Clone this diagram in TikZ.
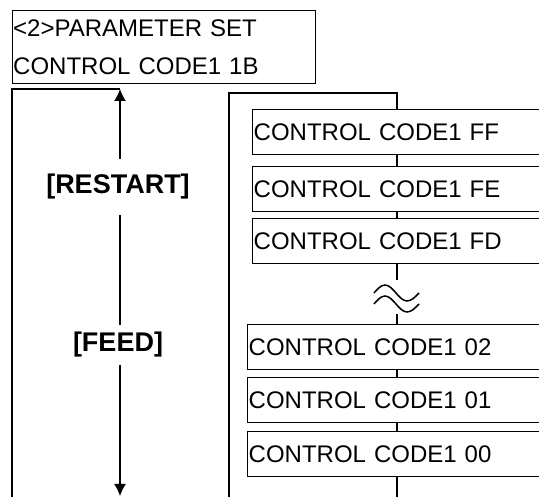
\documentclass[tikz,border=0pt]{standalone}
\usepackage{fontspec}
\setmainfont{Liberation Sans}
\usepackage{tikz}
\usetikzlibrary{arrows.meta,calc,positioning}

\begin{document}
\begin{tikzpicture}[x=1pt,y=-1pt,line width=1.4pt,>={Latex[length=12pt,width=12pt]},
    codebox/.style={draw,anchor=north west,minimum width=320,minimum height=45,text width=318,inner xsep=0.5pt,align=left,font=\fontsize{24}{28}\selectfont},
    keylabel/.style={inner sep=0pt,font=\bfseries\fontsize{27}{30}\selectfont}]
      \useasboundingbox (0,0) rectangle (539,497);
      \clip (0,0) rectangle (539,497);
      \node[draw,anchor=north west,minimum width=303,minimum height=73,text width=302,inner xsep=0.5pt,align=left,font=\fontsize{24}{38}\selectfont] (param) at (12,10) {<2>PARAMETER SET\\CONTROL CODE1 1B};
      \coordinate (lfoot) at (12,505);
      \coordinate (atop) at (120,89);
      \coordinate (abot) at (120,496);
      \node[keylabel,minimum height=55] (restart) at (118,187) {[RESTART]};
      \node[keylabel,minimum height=38] (feed) at (118,345) {[FEED]};
      \draw (lfoot) |- (atop);
      \draw[->] (restart.north -| atop) -- (atop);
      \draw (restart.south -| atop) -- (feed.north -| atop);
      \draw[->] (feed.south -| atop) -- (abot);
      \coordinate (rfoot) at (229,505);
      \coordinate (rtop) at (397,93);
      \node[codebox] (ff) at (252,109) {CONTROL CODE1 FF};
      \node[codebox] (fe) at (252,166) {CONTROL CODE1 FE};
      \node[codebox] (fd) at (252,218) {CONTROL CODE1 FD};
      \node[minimum width=40,minimum height=33,inner sep=0pt] (skip) at (397,297) {};
      \node[codebox] (c02) at (247,324) {CONTROL CODE1 02};
      \node[codebox] (c01) at (247,377) {CONTROL CODE1 01};
      \node[codebox] (c00) at (247,431) {CONTROL CODE1 00};
      \coordinate (cfoot) at (397,505);
      \draw (rfoot) |- (rtop) -- (rtop |- ff.north);
      \draw (rtop |- ff.south) -- (rtop |- fe.north);
      \draw (rtop |- fe.south) -- (rtop |- fd.north);
      \draw (rtop |- fd.south) -- (skip.north);
      \draw (skip.south) -- (rtop |- c02.north);
      \draw (rtop |- c02.south) -- (rtop |- c01.north);
      \draw (rtop |- c01.south) -- (rtop |- c00.north);
      \draw (rtop |- c00.south) -- (cfoot);
      % wavy break mark
      \draw[line width=1.5pt] ($(skip.center)+(-23,-4)$) sin +(11,-8) cos +(11,8) sin +(11,8) cos +(12,-8);
      \draw[line width=1.5pt] ($(skip.center)+(-23,7)$) sin +(11,-8) cos +(11,8) sin +(11,8) cos +(12,-8);
    \end{tikzpicture}
\end{document}
